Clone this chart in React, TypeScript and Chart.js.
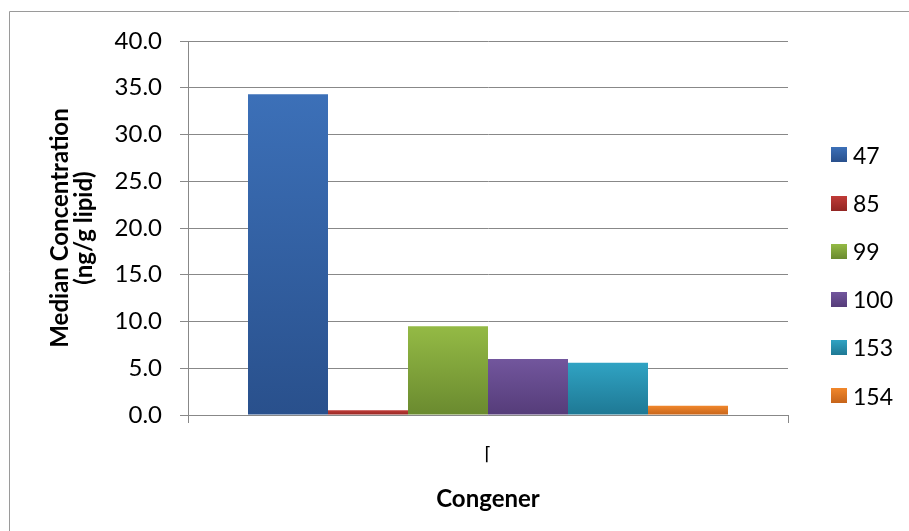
import React, { useEffect, useRef } from 'react';
import { Chart, registerables } from 'chart.js';

Chart.register(...registerables);

// Single category on the x axis
const categories = ['\u2308'];
// PBDE congeners (one dataset each)
const congeners = ['47', '85', '99', '100', '153', '154'];
// Median concentration, ng/g lipid
const medians = [34.3, 0.5, 9.5, 6.0, 5.6, 1.0];
// Bar fill gradient stops (top -> bottom)
const topColors = ['#3c70b8', '#c03b37', '#94ba45', '#72569d', '#30a3c3', '#f1872b'];
const bottomColors = ['#29508c', '#922623', '#6a8a2f', '#553c79', '#1e7894', '#c6641a'];

const Y_MIN = 0;
const Y_MAX = 40;
const Y_STEP = 5;

const GRID = '#888888';
const FONT = 'Lato, "Liberation Sans", sans-serif';

const framePlugin = {
  id: 'frame',
  beforeDraw(chart: Chart) {
    const { ctx } = chart;
    ctx.save();
    ctx.fillStyle = '#ffffff';
    ctx.fillRect(0, 0, chart.width, chart.height);
    ctx.strokeStyle = '#9a9a9a';
    ctx.lineWidth = 1;
    ctx.beginPath();
    ctx.moveTo(9.5, chart.height);
    ctx.lineTo(9.5, 11.5);
    ctx.lineTo(chart.width, 11.5);
    ctx.stroke();
    ctx.restore();
  },
};

function barFill(i: number) {
  return (c: any) => {
    const chart = c.chart;
    if (!chart.chartArea || c.type !== 'data') return topColors[i];
    const y = chart.scales.y;
    const v = typeof c.raw === 'number' ? c.raw : medians[i];
    const yTop = y.getPixelForValue(v);
    const yBase = y.getPixelForValue(0);
    if (!isFinite(yTop) || !isFinite(yBase) || yBase - yTop < 0.5) return topColors[i];
    const g = chart.ctx.createLinearGradient(0, yTop, 0, yBase);
    g.addColorStop(0, topColors[i]);
    g.addColorStop(1, bottomColors[i]);
    return g;
  };
}

export default function App() {
  const canvasRef = useRef<HTMLCanvasElement | null>(null);

  useEffect(() => {
    if (!canvasRef.current) return;
    const chart = new Chart(canvasRef.current, {
      type: 'bar',
      data: {
        labels: categories,
        datasets: congeners.map((name, i) => ({
          label: name,
          data: [medians[i]],
          backgroundColor: barFill(i),
          borderWidth: 0,
          categoryPercentage: 0.8,
          barPercentage: 1,
        })),
      },
      options: {
        responsive: false,
        animation: false,
        events: [],
        layout: { padding: { left: 0, top: 41, right: 121, bottom: 0 } },
        plugins: {
          legend: { display: false },
          tooltip: { enabled: false },
        },
        scales: {
          x: {
            offset: true,
            grid: {
              offset: true,
              drawOnChartArea: false,
              drawTicks: true,
              tickLength: 8,
              color: GRID,
            },
            border: { color: GRID },
            ticks: {
              color: '#000',
              padding: 22,
              font: { family: '"DejaVu Sans"', size: 18 },
            },
            title: {
              display: true,
              text: 'Congener',
              color: '#000',
              font: { family: FONT, size: 24, weight: 'bold' },
              padding: { top: 0, bottom: 17 },
            },
            afterFit: (s: any) => {
              s.height = 116;
            },
          },
          y: {
            min: Y_MIN,
            max: Y_MAX,
            ticks: {
              stepSize: Y_STEP,
              color: '#000',
              padding: 18,
              font: { family: FONT, size: 24 },
              callback: (v: any) => Number(v).toFixed(1),
            },
            grid: { color: GRID, tickLength: 8 },
            border: { color: GRID },
            title: {
              display: true,
              text: ['Median Concentration', '(ng/g lipid)'],
              color: '#000',
              font: { family: FONT, size: 24, weight: 'bold', lineHeight: 1.0 },
              padding: { top: 48, bottom: 0 },
            },
            afterFit: (s: any) => {
              s.width = 188;
            },
          },
        },
      },
      plugins: [framePlugin],
    });
    return () => chart.destroy();
  }, []);

  const rowCenters = [154.5, 203, 251.3, 299.2, 347.4, 395.5];

  return (
    <div style={{ position: 'fixed', left: 0, top: 0, width: 909, height: 531, background: '#fff', overflow: 'hidden' }}>
      <canvas ref={canvasRef} width={909} height={531} style={{ display: 'block' }} />
      {congeners.map((name, i) => (
        <div
          key={name}
          style={{
            position: 'absolute',
            left: 831,
            top: rowCenters[i] - 13,
            height: 26,
            display: 'flex',
            alignItems: 'center',
            fontFamily: FONT,
            fontSize: 23,
            lineHeight: '26px',
            color: '#000',
            whiteSpace: 'nowrap',
          }}
        >
          <span
            style={{
              display: 'inline-block',
              width: 16,
              height: 15,
              marginRight: 6,
              background: `linear-gradient(${topColors[i]}, ${bottomColors[i]})`,
            }}
          />
          <span>{name}</span>
        </div>
      ))}
    </div>
  );
}
